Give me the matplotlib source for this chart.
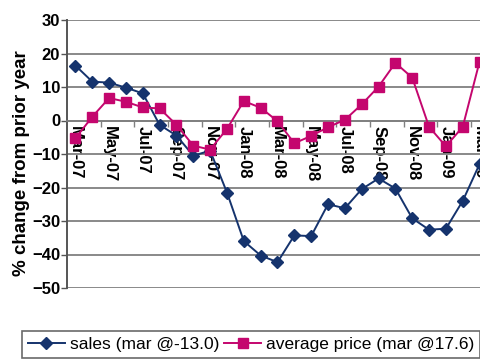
import numpy as np
import matplotlib
matplotlib.use('Agg')
import matplotlib.pyplot as plt
from matplotlib.ticker import FixedLocator, MultipleLocator

plt.rcParams['font.family'] = ['Liberation Sans', 'DejaVu Sans']

# monthly year-over-year changes, Mar-07 .. Mar-09
months = ['Mar-07', 'Apr-07', 'May-07', 'Jun-07', 'Jul-07', 'Aug-07', 'Sep-07',
          'Oct-07', 'Nov-07', 'Dec-07', 'Jan-08', 'Feb-08', 'Mar-08', 'Apr-08',
          'May-08', 'Jun-08', 'Jul-08', 'Aug-08', 'Sep-08', 'Oct-08', 'Nov-08',
          'Dec-08', 'Jan-09', 'Feb-09', 'Mar-09']
sales = [16.4, 11.6, 11.3, 9.8, 8.1, -1.3, -4.5, -10.5, -9.0, -21.5, -36.0,
         -40.3, -42.3, -34.3, -34.5, -25.0, -26.2, -20.5, -17.3, -20.3, -29.2,
         -32.6, -32.3, -24.0, -13.0]
avg_price = [-5.3, 1.1, 6.7, 5.6, 3.9, 3.6, -1.3, -7.5, -8.7, -2.5, 5.8, 3.8,
             -0.2, -6.8, -4.6, -2.0, 0.2, 4.8, 10.1, 17.2, 12.8, -1.9, -7.7,
             -1.9, 17.6]
sales_label = 'sales (mar @-13.0)'
price_label = 'average price (mar @17.6)'

navy = '#15336d'
magenta = '#c4066e'

fig = plt.figure(figsize=(4.81, 3.62), dpi=100)
# plot area runs a little past the right edge of the figure
ax = fig.add_axes([67 / 481, 1 - 288 / 362, 421 / 481, 268 / 362])

x = np.arange(len(months))
l1, = ax.plot(x, sales, color=navy, lw=1.4, marker='D', ms=6.5,
              mfc=navy, mec=navy, zorder=3)
l2, = ax.plot(x, avg_price, color=magenta, lw=1.4, marker='s', ms=7,
              mfc=magenta, mec=magenta, zorder=3)

ax.set_xlim(-0.5, len(months) - 0.5)
ax.set_ylim(-50, 30)
ax.yaxis.set_major_locator(MultipleLocator(10))
ax.grid(axis='y', color='#808080', lw=1.3, zorder=0)
ax.set_axisbelow(True)

for s in ['top', 'right']:
    ax.spines[s].set_visible(False)
ax.spines['left'].set_color('#555555')
ax.spines['left'].set_linewidth(1.4)
ax.spines['bottom'].set_position(('data', 0))
ax.spines['bottom'].set_color('#808080')
ax.spines['bottom'].set_linewidth(1.3)

ax.set_xticks(x[::2])
ax.set_xticklabels(months[::2], rotation=270, fontsize=12, fontweight='bold',
                   ha='center', va='top')
ax.xaxis.set_minor_locator(FixedLocator(np.arange(1.5, len(months), 2)))
ax.tick_params(axis='x', which='major', length=0, pad=4)
ax.tick_params(axis='x', which='minor', length=4, color='#808080', width=1)
ax.tick_params(axis='y', length=4, color='#555555', width=1, pad=1,
               labelsize=12)
for lab in ax.get_yticklabels():
    lab.set_fontweight('bold')

fig.text(22 / 481, 1 - 163 / 362, '% change from prior year', rotation=90,
         ha='center', va='center', fontsize=13.5, fontweight='bold')

leg = fig.legend([l1, l2], [sales_label, price_label], ncol=2,
                 loc='upper left', bbox_to_anchor=(22 / 481, 1 - 331 / 362),
                 fontsize=12.5, frameon=True, fancybox=False, handlelength=2.1,
                 handletextpad=0.3, columnspacing=0.3, borderpad=0.35,
                 borderaxespad=0)
leg.get_frame().set_edgecolor('#444444')
leg.get_frame().set_linewidth(1.2)

fig.savefig('out.png', dpi=100)
